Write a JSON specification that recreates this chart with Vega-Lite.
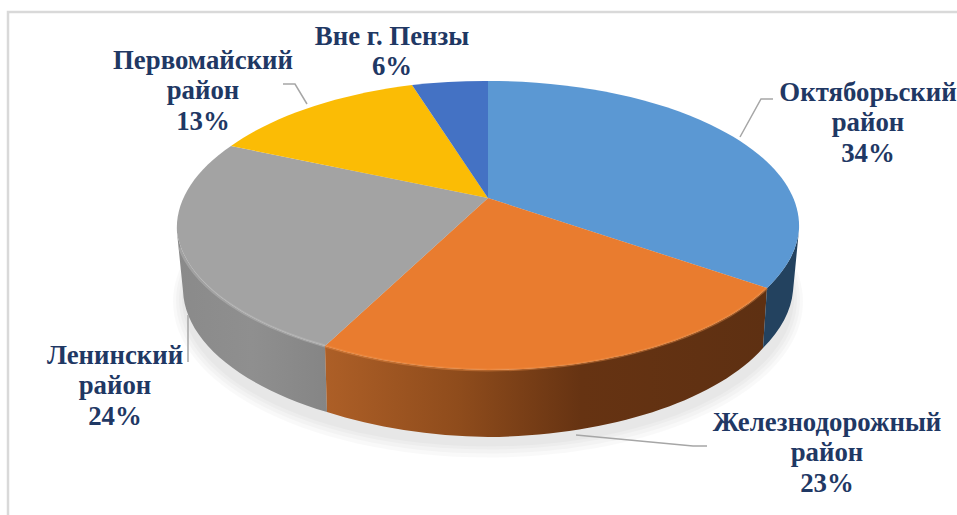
{"$schema":"https://vega.github.io/schema/vega-lite/v6.json","width":957,"height":515,"autosize":{"type":"none"},"padding":0,"background":"#ffffff","config":{"view":{"stroke":null}},
"datasets":{"shares":[
{"district":"Октяборьский район","share":34,"label":"Октяборьский\nрайон\n34%"},
{"district":"Железнодорожный район","share":23,"label":"Железнодорожный\nрайон\n23%"},
{"district":"Ленинский район","share":24,"label":"Ленинский\nрайон\n24%"},
{"district":"Первомайский район","share":13,"label":"Первомайский\nрайон\n13%"},
{"district":"Вне г. Пензы","share":6,"label":"Вне г. Пензы\n6%"}],
"shadow":[{"ring":"a"},{"ring":"b"},{"ring":"c"},{"ring":"d"}],"frame":[{"part":"frame"}]},
"data":{"name":"shares"},
"resolve":{"scale":{"shape":"independent","color":"independent"}},
"layer":[
{"data":{"name":"frame"},"mark":{"type":"point","shape":"M-470.5,257.5 L-470.5,-245.5 L478.5,-245.5","size":4,"filled":false,"stroke":"#d9d9d9","strokeWidth":2.5,"opacity":1}},
{"data":{"name":"shadow"},"mark":{"type":"point","filled":true,"fill":"#000000","size":4,"opacity":0.022,"strokeWidth":0},"encoding":{"shape":{"field":"ring","type":"nominal","legend":null,"scale":{"domain":["a","b","c","d"],"range":["M-305.5,44 A315,156 0 1 1 324.5,44 A315,156 0 1 1 -305.5,44 Z","M-302.5,43 A312,153 0 1 1 321.5,43 A312,153 0 1 1 -302.5,43 Z","M-299.5,42 A309,150 0 1 1 318.5,42 A309,150 0 1 1 -299.5,42 Z","M-296.5,41 A306,148 0 1 1 315.5,41 A306,148 0 1 1 -296.5,41 Z"]}}}},
{"transform":[{"filter":"datum.share==24"}],"mark":{"type":"point","filled":true,"size":4,"opacity":1,"strokeWidth":0,"shape":"M-301.5,-25 A311,145 0 0 0 -153.5,88.5 L-151.5,154.5 A305,146 0 0 1 -295.5,33.5 Z","fill":{"x1":0,"x2":1,"y1":0,"y2":0,"gradient":"linear","stops":[{"offset":0,"color":"#8a8a8a"},{"offset":0.5,"color":"#8f8f8f"},{"offset":1,"color":"#858585"}]}}},
{"transform":[{"filter":"datum.share==23"}],"mark":{"type":"point","filled":true,"size":4,"opacity":1,"strokeWidth":0,"shape":"M288.5,30.5 A311,145 0 0 1 9.5,112.5 A311,145 0 0 1 -153.5,88.5 L-151.5,154.5 A305,146 0 0 0 9.5,179.5 A305,146 0 0 0 284.5,90.5 Z","fill":{"x1":0,"x2":1,"y1":0,"y2":0,"gradient":"linear","stops":[{"offset":0,"color":"#ad5f27"},{"offset":0.3,"color":"#8f4c1c"},{"offset":0.58,"color":"#663312"},{"offset":1,"color":"#5e3012"}]}}},
{"transform":[{"filter":"datum.share==34"}],"mark":{"type":"point","filled":true,"size":4,"opacity":1,"strokeWidth":0,"shape":"M288.5,30.5 A311,145 0 0 0 320.5,-28 L314.5,33.5 A305,146 0 0 1 284.5,90.5 Z","fill":"#23425f"}},
{"mark":{"type":"point","filled":true,"size":4,"opacity":1,"strokeWidth":0},"encoding":{"shape":{"field":"district","type":"nominal","legend":null,"scale":{"domain":["Октяборьский район","Железнодорожный район","Ленинский район","Первомайский район","Вне г. Пензы"],"range":["M9.5,-59.5 L9.5,-176.5 A311,145 0 0 1 320.5,-28 A311,145 0 0 1 288.5,30.5 Z","M9.5,-59.5 L288.5,30.5 A311,145 0 0 1 9.5,112.5 A311,145 0 0 1 -153.5,88.5 Z","M9.5,-59.5 L-153.5,88.5 A311,145 0 0 1 -301.5,-25 A311,145 0 0 1 -247.5,-111.5 Z","M9.5,-59.5 L-247.5,-111.5 A311,145 0 0 1 -66.5,-172.5 Z","M9.5,-59.5 L-66.5,-172.5 A311,145 0 0 1 9.5,-176.5 Z"]}},"color":{"field":"district","type":"nominal","legend":null,"scale":{"domain":["Октяборьский район","Железнодорожный район","Ленинский район","Первомайский район","Вне г. Пензы"],"range":["#5b98d3","#e97c2f","#a3a3a3","#fbbc05","#4472c4"]}}}},
{"transform":[{"filter":"datum.share==24 || datum.share==23"}],"mark":{"type":"point","filled":false,"size":4,"opacity":0.4,"strokeWidth":3},"encoding":{"shape":{"field":"district","type":"nominal","legend":null,"scale":{"domain":["Железнодорожный район","Ленинский район"],"range":["M288.5,30.5 A311,145 0 0 1 9.5,112.5 A311,145 0 0 1 -153.5,88.5","M-153.5,88.5 A311,145 0 0 1 -299,-10"]}},"color":{"field":"district","type":"nominal","legend":null,"scale":{"domain":["Железнодорожный район","Ленинский район"],"range":["#f29248","#c4c4c4"]}}}},
{"transform":[{"filter":"datum.share!=6"}],"mark":{"type":"point","filled":false,"size":4,"opacity":1,"stroke":"#a6a6a6","strokeWidth":1.5},"encoding":{"shape":{"field":"district","type":"nominal","legend":null,"scale":{"domain":["Октяборьский район","Железнодорожный район","Ленинский район","Первомайский район"],"range":["M261.5,-120.5 L282.5,-158.5 L294.5,-158.5","M97.5,177.5 L214.5,188.5 L228.5,188.5","M-290.5,57.5 L-290.5,104.5","M-195.5,-173.5 L-183.5,-173.5 L-171.5,-153.5"]}}}},
{"transform":[{"filter":"datum.share==34"}],"mark":{"type":"text","font":"Liberation Serif","fontWeight":"bold","fontSize":26.8,"lineHeight":30.5,"lineBreak":"\n","align":"center","baseline":"top","color":"#1f3864","dx":389.5,"dy":-178},"encoding":{"text":{"field":"label","type":"nominal"}}},
{"transform":[{"filter":"datum.share==23"}],"mark":{"type":"text","font":"Liberation Serif","fontWeight":"bold","fontSize":26.8,"lineHeight":30.5,"lineBreak":"\n","align":"center","baseline":"top","color":"#1f3864","dx":348.5,"dy":152},"encoding":{"text":{"field":"label","type":"nominal"}}},
{"transform":[{"filter":"datum.share==24"}],"mark":{"type":"text","font":"Liberation Serif","fontWeight":"bold","fontSize":26.8,"lineHeight":30.5,"lineBreak":"\n","align":"center","baseline":"top","color":"#1f3864","dx":-363.5,"dy":85},"encoding":{"text":{"field":"label","type":"nominal"}}},
{"transform":[{"filter":"datum.share==13"}],"mark":{"type":"text","font":"Liberation Serif","fontWeight":"bold","fontSize":26.8,"lineHeight":30.5,"lineBreak":"\n","align":"center","baseline":"top","color":"#1f3864","dx":-275.5,"dy":-210},"encoding":{"text":{"field":"label","type":"nominal"}}},
{"transform":[{"filter":"datum.share==6"}],"mark":{"type":"text","font":"Liberation Serif","fontWeight":"bold","fontSize":26.8,"lineHeight":30.5,"lineBreak":"\n","align":"center","baseline":"top","color":"#1f3864","dx":-86.5,"dy":-234},"encoding":{"text":{"field":"label","type":"nominal"}}}
]}
